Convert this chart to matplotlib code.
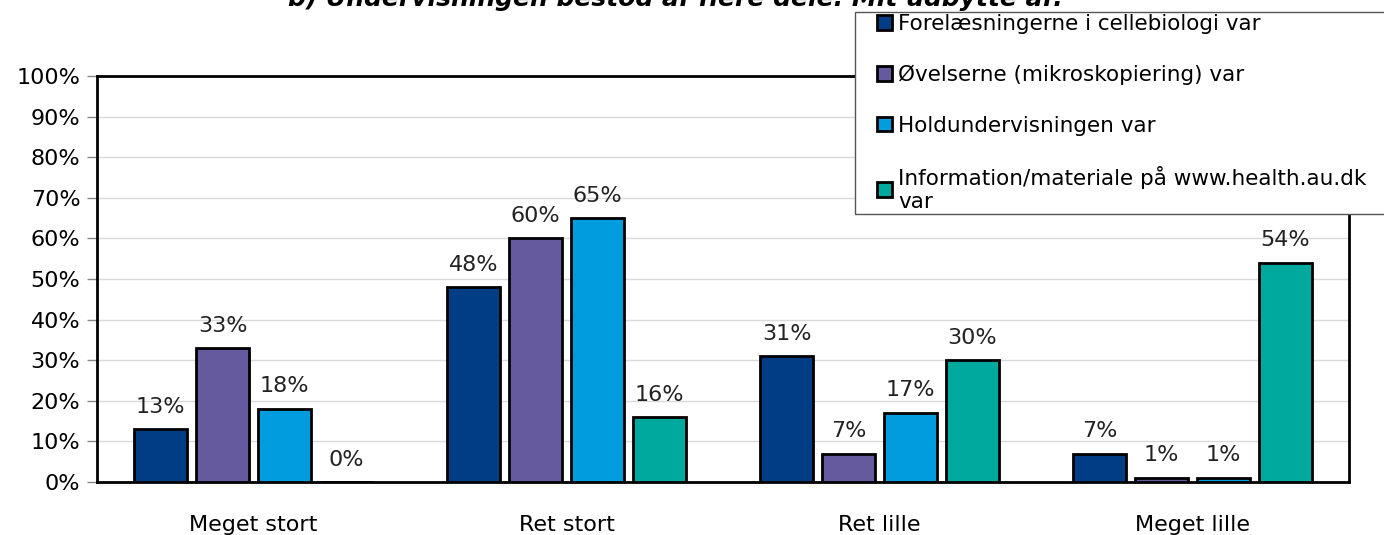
import matplotlib
matplotlib.use("Agg")
import matplotlib.pyplot as plt
from matplotlib.patches import Rectangle
import numpy as np

# survey data (share of answers)
categories = ["Meget stort", "Ret stort", "Ret lille", "Meget lille"]
series_names = [
    "Forelæsningerne i cellebiologi var",
    "Øvelserne (mikroskopiering) var",
    "Holdundervisningen var",
    "Information/materiale på www.health.au.dk\nvar",
]
forelaesninger = [13, 48, 31, 7]
oevelser = [33, 60, 7, 1]
hold = [18, 65, 17, 1]
information = [0, 16, 30, 54]
colors = ["#003D84", "#665A9E", "#009CDE", "#00A99D"]

plt.rcParams["font.family"] = ["DejaVu Sans"]

W, H = 1384, 535
fig = plt.figure(figsize=(W / 100, H / 100), dpi=100)
ax = fig.add_axes([97 / W, 1 - 482 / H, (1349 - 97) / W, (482 - 76) / H])

x = np.arange(len(categories))
step = 0.198
width = 0.17
all_series = [forelaesninger, oevelser, hold, information]
for i, vals in enumerate(all_series):
    pos = x + (i - 1.5) * step
    bars = ax.bar(pos, vals, width, color=colors[i], edgecolor="black",
                  linewidth=2, label=series_names[i], zorder=3)
    for b, v in zip(bars, vals):
        ax.annotate(f"{v}%", (b.get_x() + b.get_width() / 2, v),
                    xytext=(0, 9), textcoords="offset points",
                    ha="center", va="bottom", fontsize=16, color="#222222")

ax.set_xlim(-0.5, 3.5)
ax.set_ylim(0, 100)
ax.set_yticks(range(0, 101, 10))
ax.set_yticklabels([f"{t}%" for t in range(0, 101, 10)], fontsize=16)
ax.set_xticks(x)
ax.set_xticklabels(categories, fontsize=16)
ax.tick_params(axis="x", length=0, pad=24)
ax.tick_params(axis="y", length=7, width=1, color="#888888", pad=5)
ax.grid(axis="y", color="#d9d9d9", linewidth=1, zorder=0)
for s in ax.spines.values():
    s.set_linewidth(2)
    s.set_color("black")

# title sits partly above the top edge, as in the original
fig.text(0.488, 1 - 6 / H, "b) Undervisningen bestod af flere dele. Mit udbytte af:",
         ha="center", va="baseline", fontsize=18, fontweight="bold", style="italic")

# legend box frame, running off the right edge
frame = Rectangle((855 / W, 1 - 214 / H), 0.5, (214 - 12) / H, transform=fig.transFigure,
                  facecolor="white", edgecolor="#555555", linewidth=1, zorder=4)
fig.patches.append(frame)

leg = fig.legend(loc="upper left", bbox_to_anchor=(877 / W, 1 - 14 / H),
                 fontsize=15.5, frameon=False,
                 handlelength=0.68, handleheight=0.68, handletextpad=0.3,
                 labelspacing=1.42, borderpad=0.0, borderaxespad=0)
leg.set_zorder(5)

fig.savefig("out.png", dpi=100)
